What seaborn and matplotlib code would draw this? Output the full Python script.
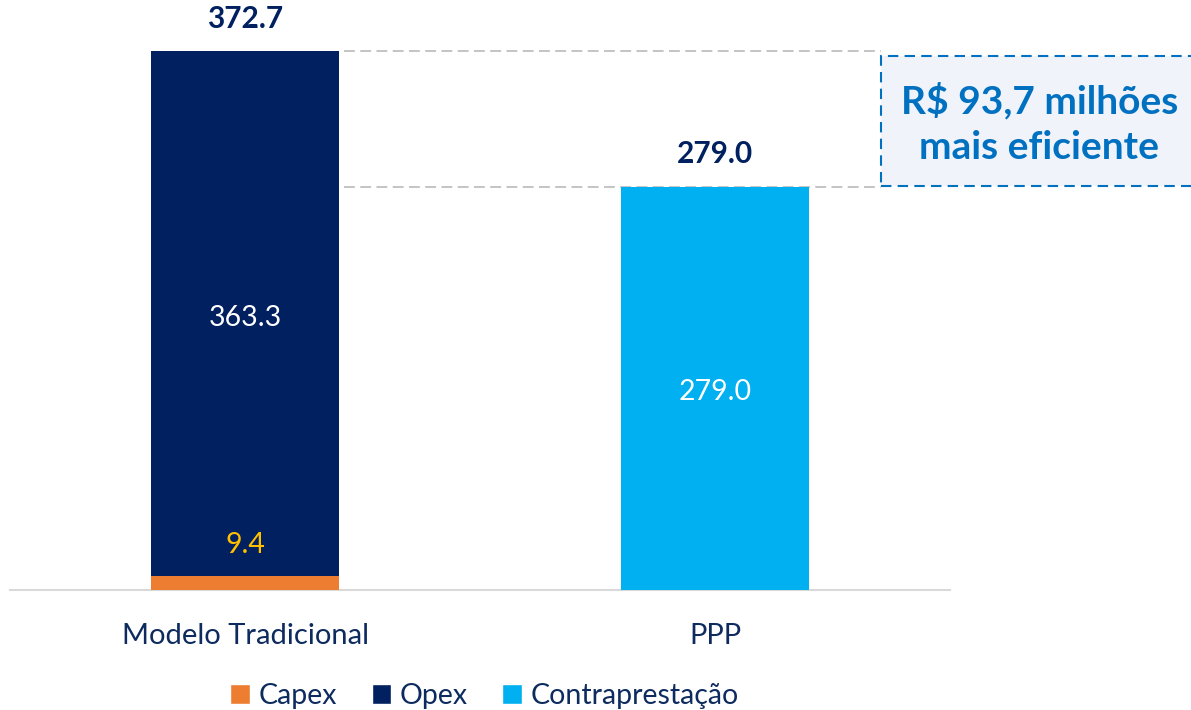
import matplotlib
matplotlib.use("Agg")
import matplotlib.pyplot as plt
from matplotlib.patches import Rectangle, Patch
import seaborn as sns
import pandas as pd

categories = ["Modelo Tradicional", "PPP"]
capex = [9.4, 0.0]
opex = [363.3, 0.0]
contraprestacao = [0.0, 279.0]
totals = [372.7, 279.0]
savings_text = "R$ 93,7 milhões\nmais eficiente"

NAVY = "#002060"
ORANGE = "#ED7D31"
LIGHT = "#00B0F0"
YELLOW = "#FFC000"
TEXT = "#0D2B5E"
BOXBLUE = "#0070C0"

sns.set_theme(style="white")
plt.rcParams["font.family"] = ["Lato", "DejaVu Sans"]

fig = plt.figure(figsize=(11.91, 7.10), dpi=100)
ax = fig.add_axes([10/1191, 1-590/710, 940/1191, 578/710])

opex_stack = [c + o for c, o in zip(capex, opex)]
df_opex = pd.DataFrame({"cat": categories, "val": opex_stack})
df_capex = pd.DataFrame({"cat": categories, "val": capex})
df_contra = pd.DataFrame({"cat": categories, "val": contraprestacao})

sns.barplot(data=df_opex, x="cat", y="val", order=categories, color=NAVY,
            width=0.4, saturation=1, ax=ax, zorder=3)
sns.barplot(data=df_capex, x="cat", y="val", order=categories, color=ORANGE,
            width=0.4, saturation=1, ax=ax, zorder=4)
sns.barplot(data=df_contra, x="cat", y="val", order=categories, color=LIGHT,
            width=0.4, saturation=1, ax=ax, zorder=3)
for p in ax.patches:
    p.set_edgecolor("none")

ax.set_xlim(-0.5, 1.5)
ax.set_ylim(0, 400)
ax.set_xlabel("")
ax.set_ylabel("")
ax.set_yticks([])
for s in ["top", "right", "left"]:
    ax.spines[s].set_visible(False)
ax.spines["bottom"].set_color("#D9D9D9")
ax.spines["bottom"].set_linewidth(1.5)
ax.tick_params(axis="x", length=0, pad=24, labelsize=21, labelcolor=TEXT)

# value labels
ax.text(0, 188, f"{opex[0]:.1f}", ha="center", va="center",
        color="white", fontsize=20.5, zorder=5)
ax.text(0, 31, f"{capex[0]:.1f}", ha="center", va="center",
        color=YELLOW, fontsize=20.5, zorder=5)
ax.text(1, 137, f"{contraprestacao[1]:.1f}", ha="center",
        va="center", color="white", fontsize=20.5, zorder=5)
for i, t in enumerate(totals):
    ax.text(i, t + 13, f"{t:.1f}", ha="center", va="bottom", color=NAVY,
            fontsize=21.5, fontweight="bold", zorder=5)

# dashed reference lines
box_x0 = 1.353
for t in totals:
    ax.plot([0.2 + 0.01, box_x0], [t, t], color="#BFBFBF", lw=1.3,
            ls=(0, (6, 3)), zorder=2, clip_on=False)

# savings box
box = Rectangle((box_x0, 279.8), 0.75, 90.0, facecolor="#F0F4FA",
                edgecolor=BOXBLUE, lw=1.5, ls=(0, (5, 3)), clip_on=False, zorder=5)
ax.add_patch(box)
ax.text(1.69, 323, savings_text, ha="center", va="center", color=BOXBLUE,
        fontsize=28, fontweight="bold", linespacing=1.35, clip_on=False, zorder=6)

handles = [Patch(facecolor=ORANGE, label="Capex"),
           Patch(facecolor=NAVY, label="Opex"),
           Patch(facecolor=LIGHT, label="Contraprestação")]
leg = ax.legend(handles=handles, loc="center", bbox_to_anchor=(0.505, -0.183),
                ncol=3, frameon=False, fontsize=20.5, handlelength=0.7,
                handleheight=0.7, handletextpad=0.3, columnspacing=1.2)
for t in leg.get_texts():
    t.set_color(TEXT)

fig.savefig("out.png", dpi=100)
